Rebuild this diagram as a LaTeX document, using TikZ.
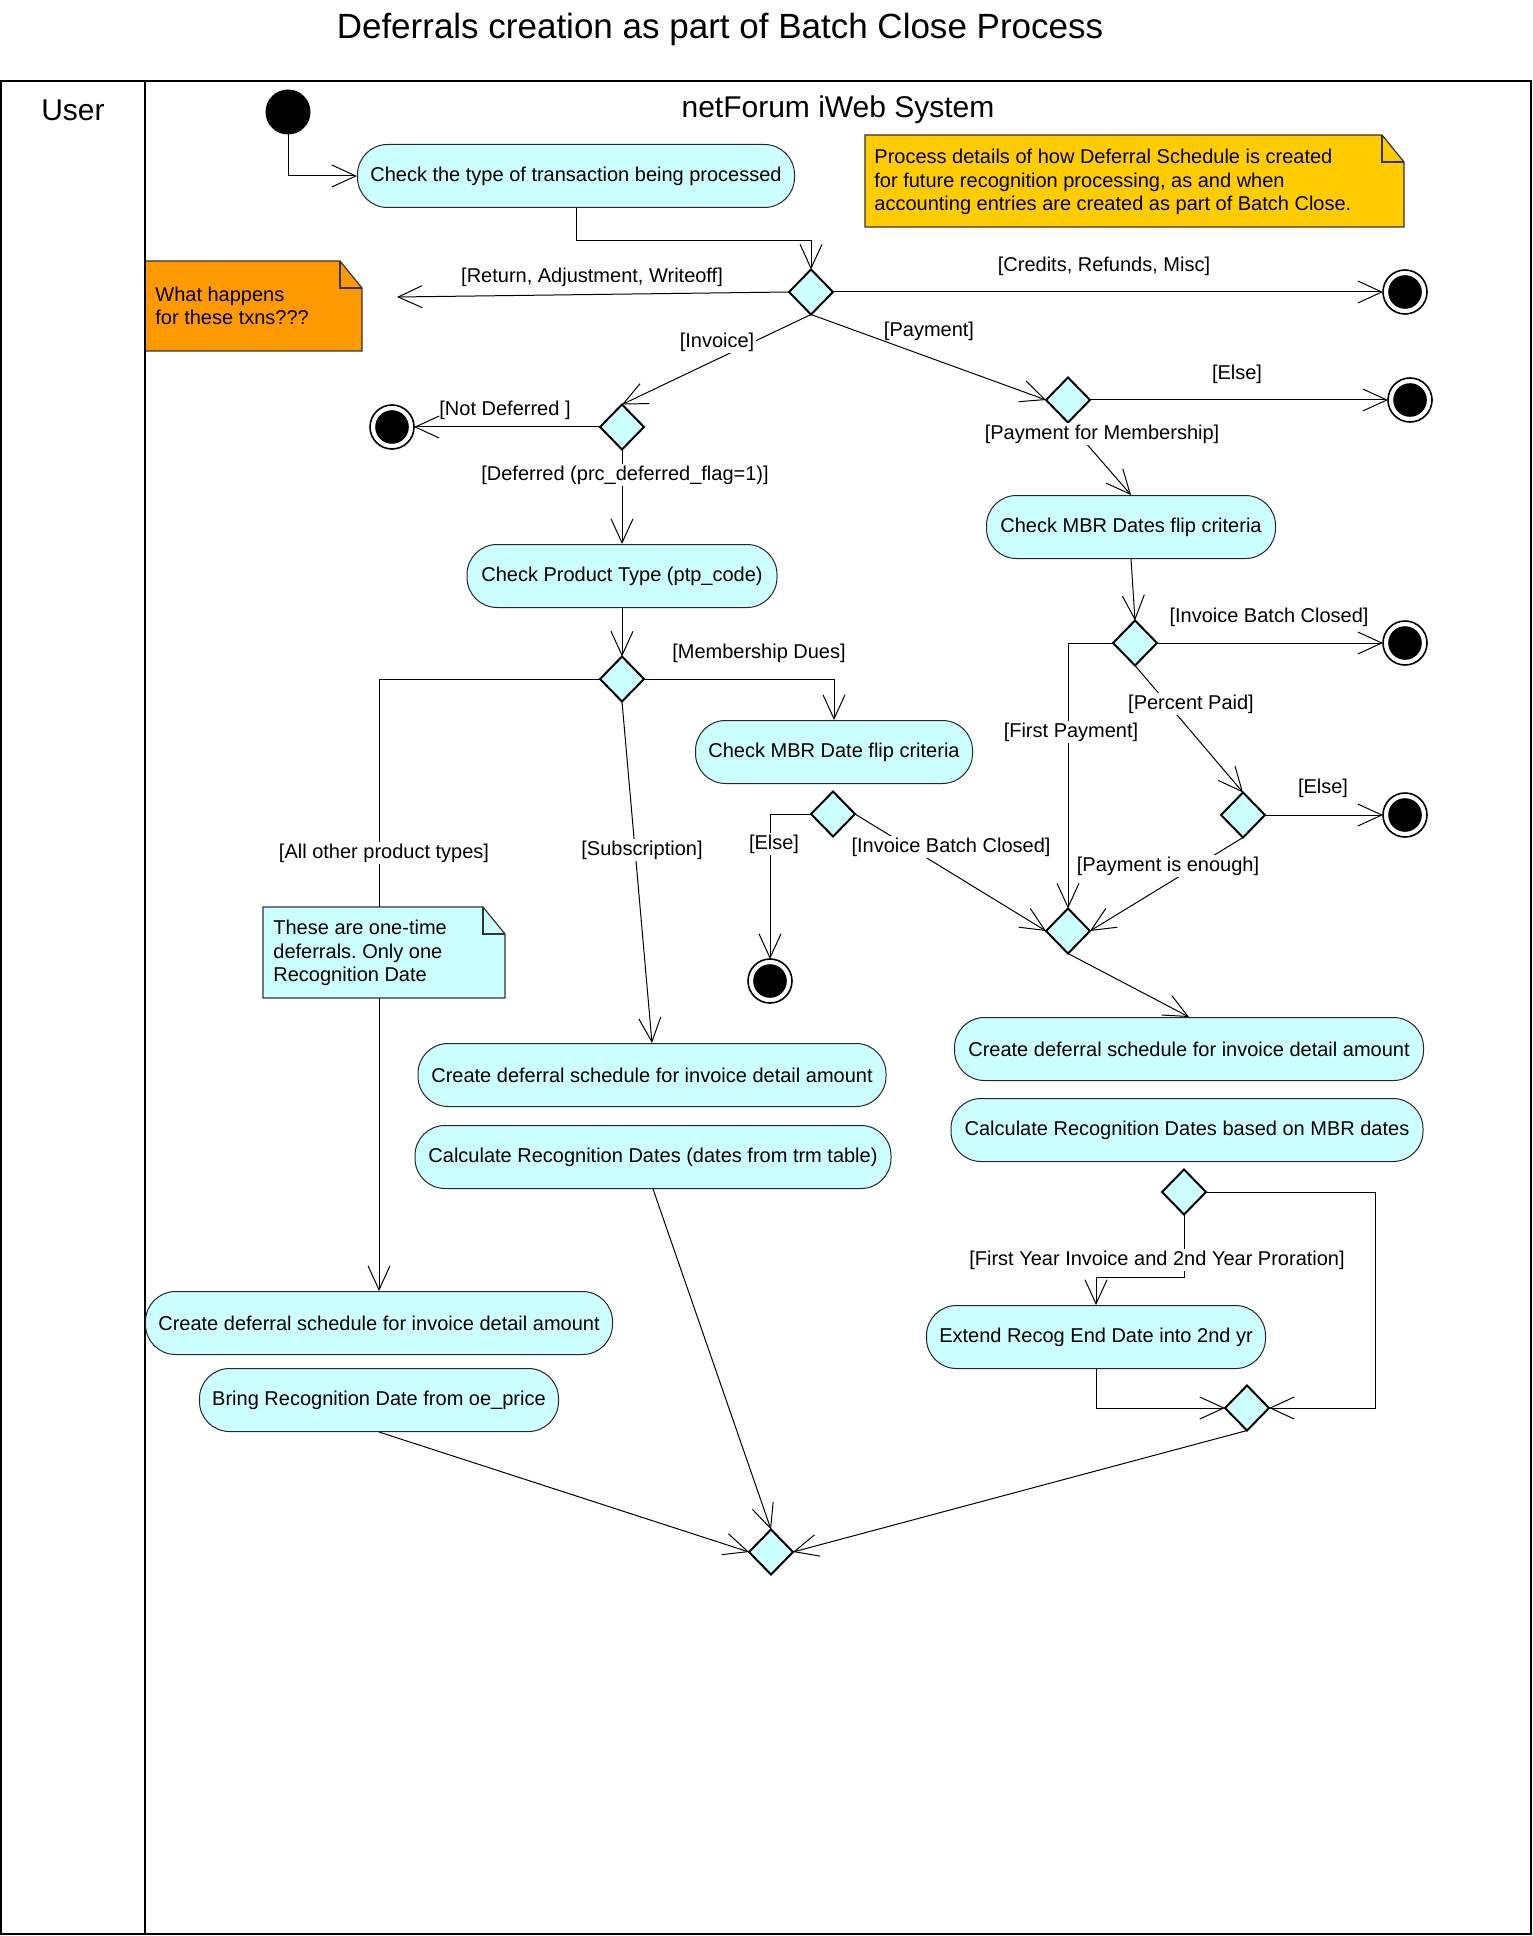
\documentclass[tikz,border=0pt]{standalone}
\usepackage{fontspec}
\setmainfont{Liberation Sans}
\usetikzlibrary{shapes.geometric,arrows.meta}

\definecolor{actfill}{HTML}{CCFFFF}
\definecolor{noteorange}{HTML}{FF9900}
\definecolor{noteyellow}{HTML}{FFCC00}

\pgfdeclarelayer{edges}
\pgfdeclarelayer{notes}
\pgfsetlayers{edges,notes,main}
\frenchspacing

\begin{document}
\begin{tikzpicture}[x=0.5pt,y=-0.5pt,
  act/.style={draw=black!85, line width=0.5pt, fill=actfill, rounded corners=15pt,
    minimum height=31.5pt, inner sep=0pt, font=\fontsize{10}{12}\selectfont},
  dec/.style={diamond, draw=black, line width=1pt, fill=actfill, minimum width=22pt,
    minimum height=22.5pt, inner sep=0pt, outer sep=0pt},
  fin/.style={circle, draw=black, line width=0.8pt, minimum size=22pt, inner sep=0pt,
    outer sep=0pt, path picture={\fill[black] (path picture bounding box.center) circle (8.4pt);}},
  startnode/.style={circle, fill=black, minimum size=22.5pt, inner sep=0pt, outer sep=0pt},
  flow/.style={line width=0.5pt, -{Straight Barb[length=12pt,width=11pt]}},
  lbl/.style={font=\fontsize{10}{12}\selectfont, inner sep=1pt},
  lblw/.style={lbl, fill=white},
  notetxt/.style={font=\fontsize{10}{11.75}\selectfont, align=left, anchor=west, inner sep=0pt},
  notebox/.style={draw=black!80, line width=0.6pt},
  frame/.style={line width=1pt},
]
\useasboundingbox (0,0) rectangle (1532,1936);

% title and lanes
\node[font=\fontsize{17.5}{21}\selectfont] (title) at (720,29) {Deferrals creation as part of Batch Close Process};
\draw[frame] (1,81) rectangle (1531,1934);
\draw[frame] (145,81) -- (145,1934);
\node[font=\fontsize{15}{18}\selectfont] (user) at (73,110) {User};
\node[font=\fontsize{15}{18}\selectfont] (sys) at (838,110) {netForum iWeb System};

% nodes
\node[startnode] (start) at (288,112) {};
\node[act, minimum width=218.5pt] (A1) at (576,176) {Check the type of transaction being processed};
\node[dec] (D1) at (811,292) {};
\node[fin] (F1) at (1405,292) {};
\coordinate (retEnd) at (397,297);
\node[dec] (D2) at (622,427) {};
\node[fin] (F2) at (392,427) {};
\node[dec] (D3) at (1068,400) {};
\node[fin] (F3) at (1410,400) {};
\node[act, minimum width=155pt] (A2) at (622,576) {Check Product Type (ptp\_code)};
\node[act, minimum width=144.5pt] (A3) at (1131,527) {Check MBR Dates flip criteria};
\node[dec] (D4) at (622,679) {};
\node[dec] (D6) at (1135,643) {};
\node[fin] (F6) at (1405,643) {};
\node[act, minimum width=138.5pt] (A4) at (834,752) {Check MBR Date flip criteria};
\node[dec] (D5) at (833,814) {};
\node[fin] (F5) at (770,981) {};
\node[dec] (D7) at (1243,815) {};
\node[fin] (F7) at (1405,815) {};
\node[dec] (M1) at (1068,931) {};
\node[act, minimum width=234.5pt] (A5) at (1189,1049) {Create deferral schedule for invoice detail amount};
\node[act, minimum width=236pt] (A6) at (1187,1130) {Calculate Recognition Dates based on MBR dates};
\node[dec] (D8) at (1184,1192) {};
\node[act, minimum width=169.5pt] (A7) at (1096,1337) {Extend Recog End Date into 2nd yr};
\node[dec] (M2) at (1247,1408) {};
\node[act, minimum width=234pt] (A8) at (652,1075) {Create deferral schedule for invoice detail amount};
\node[act, minimum width=238pt] (A9) at (653,1157) {Calculate Recognition Dates (dates from trm table)};
\node[act, minimum width=233.5pt] (A10) at (379,1323) {Create deferral schedule for invoice detail amount};
\node[act, minimum width=179.5pt] (A11) at (379,1400) {Bring Recognition Date from oe\_price};
\node[dec] (M3) at (771,1552) {};

% notes
\begin{pgfonlayer}{notes}
\draw[notebox, fill=noteyellow] (865,135) -- (1382,135) -- (1404,162) -- (1404,227) -- (865,227) -- cycle;
\draw[notebox] (1382,135) -- (1382,162) -- (1404,162);
\draw[notebox, fill=noteorange] (145,261) -- (340,261) -- (362,288) -- (362,351) -- (145,351) -- cycle;
\draw[notebox] (340,261) -- (340,288) -- (362,288);
\draw[notebox, fill=actfill] (263,907) -- (483,907) -- (505,934) -- (505,998) -- (263,998) -- cycle;
\draw[notebox] (483,907) -- (483,934) -- (505,934);
\end{pgfonlayer}
\node[notetxt] (nY) at (874,182) {Process details of how Deferral Schedule is created\\for future recognition processing, as and when\\accounting entries are created as part of Batch Close.};
\node[notetxt] (nO) at (155,306) {What happens\\for these txns???};
\node[notetxt] (nC) at (273,953) {These are one-time\\deferrals. Only one\\Recognition Date};

% connectors
\begin{pgfonlayer}{edges}
\draw[flow] (start.south) |- (A1.west);
\draw[flow] (A1.south) -- ++(0,33) -| (D1.north);
\draw[flow] (D1.west) -- (retEnd);
\draw[flow] (D1.east) -- (F1.west);
\draw[flow] (D1.south) -- (D2.north);
\draw[flow] (D1.south) -- (D3.west);
\draw[flow] (D2.west) -- (F2.east);
\draw[flow] (D2.south) -- (A2.north);
\draw[flow] (D3.east) -- (F3.west);
\draw[flow] (D3.south) -- (A3.north);
\draw[flow] (A3.south) -- (D6.north);
\draw[flow] (A2.south) -- (D4.north);
\draw[flow] (D4.west) -| (A10.north);
\draw[flow] (D4.south) -- (A8.north);
\draw[flow] (D4.east) -| (A4.north);
\draw[flow] (D5.west) -| (F5.north);
\draw[flow] (D5.east) -- (M1.west);
\draw[flow] (D6.east) -- (F6.west);
\draw[flow] (D6.west) -| (M1.north);
\draw[flow] (D6.south) -- (D7.north);
\draw[flow] (D7.east) -- (F7.west);
\draw[flow] (D7.south) -- (M1.east);
\draw[flow] (M1.south) -- (A5.north);
\draw[flow] (A11.south) -- (M3.west);
\draw[flow] (A9.south) -- (M3.north);
\draw[flow] (D8.south) -- ++(0,63) -| (A7.north);
\draw[flow] (A7.south) |- (M2.west);
\draw[flow] (D8.east) -- ++(169,0) |- (M2.east);
\draw[flow] (M2.south) -- (M3.east);
\end{pgfonlayer}

% guard labels
\node[lbl] (l1) at (592,277) {[Return, Adjustment, Writeoff]};
\node[lbl] (l2) at (1104,266) {[Credits, Refunds, Misc]};
\node[lblw] (l3) at (717,342) {[Invoice]};
\node[lbl] (l4) at (929,331) {[Payment]};
\node[lbl] (l5) at (505,410) {[Not Deferred ]};
\node[lbl] (l6) at (1237,374) {[Else]};
\node[lblw] (l7) at (1102,434) {[Payment for Membership]};
\node[lblw] (l8) at (625,475) {[Deferred (prc\_deferred\_flag=1)]};
\node[lbl] (l9) at (759,653) {[Membership Dues]};
\node[lbl] (l10) at (1269,617) {[Invoice Batch Closed]};
\node[lblw] (l11) at (1191,704) {[Percent Paid]};
\node[lblw] (l12) at (1071,732) {[First Payment]};
\node[lbl] (l13) at (1323,788) {[Else]};
\node[lblw] (l14) at (384,853) {[All other product types]};
\node[lblw] (l15) at (642,850) {[Subscription]};
\node[lblw] (l16) at (774,844) {[Else]};
\node[lblw] (l17) at (951,847) {[Invoice Batch Closed]};
\node[lblw] (l18) at (1168,866) {[Payment is enough]};
\node[lblw] (l19) at (1157,1260) {[First Year Invoice and 2nd Year Proration]};
\end{tikzpicture}
\end{document}
